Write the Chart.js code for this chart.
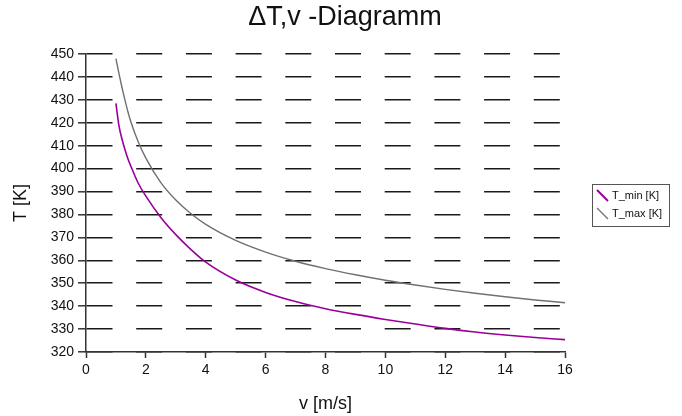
<!DOCTYPE html>
<html>
<head>
<meta charset="utf-8">
<script src="https://cdn.jsdelivr.net/npm/chart.js@4/dist/chart.umd.min.js"></script>
<style>
  html, body { margin: 0; padding: 0; background: #fff; }
  #wrap { width: 682px; height: 416px; }
</style>
</head>
<body>
<div id="wrap"><canvas id="diagramm" width="682" height="416"></canvas></div>
<script>
// values
const velocities = [1, 1.1, 1.2, 1.3, 1.4, 1.5, 1.75, 2, 2.5, 3, 3.5, 4, 5, 6, 7, 8, 9, 10, 11, 12, 13, 14, 15, 16];
const tMin = [428.5, 418.8, 413, 408.3, 404.3, 401, 393.5, 388, 378.7, 371.2, 364.8, 359.2, 351.4, 346, 342, 338.9, 336.4, 334.2, 332.2, 330.3, 328.7, 327.4, 326.3, 325.4];
const tMax = [448, 441.5, 435.5, 430, 424.8, 420.3, 411.5, 404.6, 393.9, 386.3, 380.4, 375.7, 368.7, 363.6, 359.6, 356.4, 353.7, 351.3, 349.2, 347.3, 345.6, 344.1, 342.7, 341.5];
const seriesNames = ['T_min [K]', 'T_max [K]'];
const seriesColors = ['#990099', '#707070'];

const titleText = '\u0394T,v -Diagramm';
const fontFamily = '"Liberation Sans", Arial, sans-serif';

// build point lists for the line datasets
function toPoints(values) {
    return velocities.map((v, i) => ({ x: v, y: values[i] }));
}

// title and boxed legend are drawn by hand, like the original
const decorPlugin = {
    id: 'decor',
    afterDraw(chart) {
        const ctx = chart.ctx;
        ctx.save();
        ctx.fillStyle = '#111';
        ctx.font = '27px ' + fontFamily;
        ctx.textAlign = 'center';
        ctx.textBaseline = 'middle';
        ctx.fillText(titleText, 345, 18);

        // legend box
        const bx = 592, by = 184, bw = 77, bh = 42;
        ctx.fillStyle = '#fff';
        ctx.fillRect(bx, by, bw, bh);
        ctx.strokeStyle = '#555';
        ctx.lineWidth = 1;
        ctx.strokeRect(bx + 0.5, by + 0.5, bw, bh);

        ctx.font = '11px ' + fontFamily;
        ctx.textAlign = 'left';
        chart.data.datasets.forEach((ds, i) => {
            const rowY = by + 12 + i * 18;
            ctx.strokeStyle = ds.borderColor;
            ctx.lineWidth = i === 0 ? 2 : 1.2;
            ctx.beginPath();
            ctx.moveTo(bx + 5, rowY - 6);
            ctx.lineTo(bx + 16, rowY + 5);
            ctx.stroke();
            ctx.fillStyle = '#111';
            ctx.fillText(ds.label, bx + 20, rowY);
        });
        ctx.restore();
    }
};

const ctx = document.getElementById('diagramm').getContext('2d');
const chart = new Chart(ctx, {
    type: 'line',
    data: {
        datasets: [
            {
                label: seriesNames[0],
                data: toPoints(tMin),
                borderColor: seriesColors[0],
                borderWidth: 1.6,
                pointRadius: 0,
                cubicInterpolationMode: 'monotone',
                fill: false
            },
            {
                label: seriesNames[1],
                data: toPoints(tMax),
                borderColor: seriesColors[1],
                borderWidth: 1.4,
                pointRadius: 0,
                cubicInterpolationMode: 'monotone',
                fill: false
            }
        ]
    },
    options: {
        responsive: false,
        animation: false,
        layout: { padding: { top: 54, right: 117, bottom: 0, left: 0 } },
        plugins: {
            legend: { display: false },
            title: { display: false },
            tooltip: { enabled: false }
        },
        scales: {
            x: {
                type: 'linear',
                min: 0,
                max: 16,
                ticks: { stepSize: 2, color: '#111', padding: 4, font: { family: fontFamily, size: 14 } },
                grid: { drawOnChartArea: false, tickLength: 6, tickColor: '#333', tickWidth: 1.5 },
                border: { color: '#333', width: 1.5 },
                title: { display: true, text: 'v [m/s]', color: '#111', padding: { top: 2, bottom: 1 }, font: { family: fontFamily, size: 18 } },
                afterFit(scale) { scale.height = 64; }
            },
            y: {
                min: 320,
                max: 450,
                ticks: { stepSize: 10, color: '#111', padding: 4, font: { family: fontFamily, size: 14 } },
                grid: { color: '#1a1a1a', lineWidth: 1.6, tickLength: 8, tickColor: '#333', tickWidth: 1.5 },
                border: { color: '#333', width: 1.5, dash: [26, 23.7] },
                title: { display: true, text: 'T [K]', color: '#111', padding: { top: 10, bottom: 0 }, font: { family: fontFamily, size: 18 } },
                afterFit(scale) { scale.width = 86; }
            }
        }
    },
    plugins: [decorPlugin]
});
</script>
</body>
</html>
